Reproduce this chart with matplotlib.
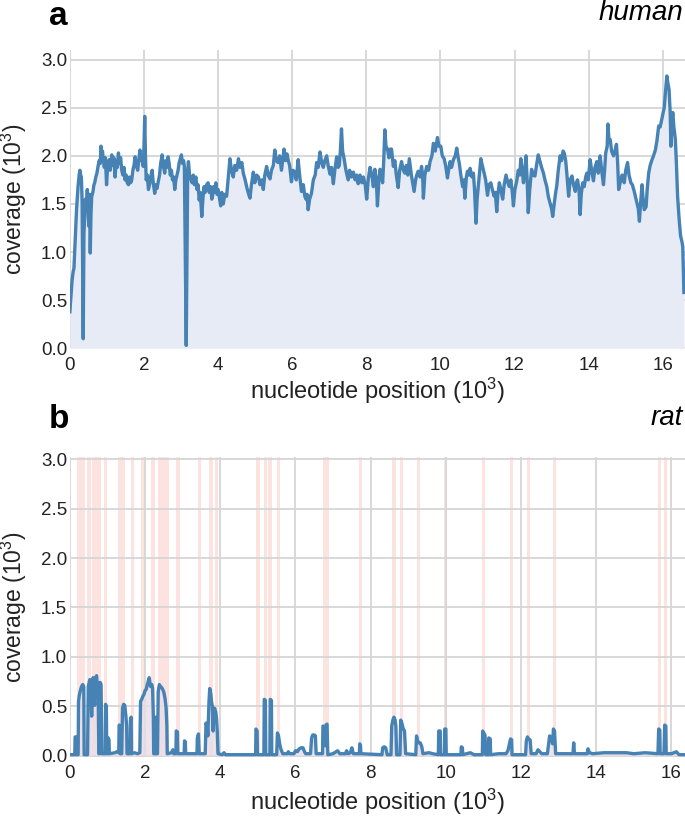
import matplotlib
matplotlib.use("Agg")
import matplotlib.pyplot as plt
import numpy as np

plt.rcParams['font.family'] = ['Liberation Sans', 'DejaVu Sans']
plt.rcParams['mathtext.fontset'] = 'custom'
plt.rcParams['mathtext.rm'] = 'Liberation Sans'
plt.rcParams['mathtext.it'] = 'Liberation Sans:italic'

# human coverage (position in kb, coverage in 10^3)
human_pos = [0.00, 0.03, 0.06, 0.09, 0.11, 0.14, 0.18, 0.22, 0.25, 0.27, 0.29, 0.31, 0.33, 0.35, 0.36, 0.37,
             0.38, 0.40, 0.42, 0.44, 0.47, 0.49, 0.51, 0.53, 0.55, 0.57, 0.59, 0.62, 0.65, 0.67, 0.70, 0.73,
             0.76, 0.79, 0.82, 0.84, 0.86, 0.88, 0.90, 0.93, 0.96, 0.99, 1.02, 1.06, 1.09, 1.13, 1.16, 1.19,
             1.22, 1.25, 1.28, 1.31, 1.34, 1.37, 1.40, 1.43, 1.46, 1.49, 1.52, 1.55, 1.58, 1.61, 1.64, 1.67,
             1.70, 1.73, 1.76, 1.79, 1.83, 1.86, 1.89, 1.92, 1.95, 1.98, 2.00, 2.02, 2.04, 2.06, 2.09, 2.12,
             2.15, 2.18, 2.22, 2.25, 2.29, 2.32, 2.35, 2.38, 2.42, 2.45, 2.49, 2.52, 2.56, 2.59, 2.62, 2.65,
             2.68, 2.71, 2.74, 2.77, 2.80, 2.83, 2.86, 2.89, 2.92, 2.95, 2.98, 3.01, 3.04, 3.07, 3.09, 3.12,
             3.14, 3.16, 3.18, 3.20, 3.23, 3.27, 3.30, 3.33, 3.36, 3.40, 3.43, 3.46, 3.49, 3.52, 3.56, 3.59,
             3.62, 3.65, 3.69, 3.73, 3.76, 3.80, 3.83, 3.85, 3.88, 3.91, 3.94, 3.97, 4.00, 4.04, 4.07, 4.10,
             4.14, 4.18, 4.23, 4.27, 4.32, 4.36, 4.41, 4.45, 4.50, 4.55, 4.59, 4.64, 4.68, 4.73, 4.77, 4.81,
             4.86, 4.90, 4.95, 4.99, 5.04, 5.09, 5.13, 5.18, 5.22, 5.26, 5.31, 5.35, 5.40, 5.44, 5.49, 5.53,
             5.57, 5.62, 5.66, 5.71, 5.75, 5.78, 5.82, 5.86, 5.89, 5.93, 5.98, 6.02, 6.07, 6.11, 6.16, 6.20,
             6.25, 6.30, 6.34, 6.37, 6.40, 6.43, 6.47, 6.52, 6.57, 6.62, 6.66, 6.70, 6.75, 6.80, 6.84, 6.88,
             6.93, 6.97, 7.02, 7.06, 7.11, 7.15, 7.20, 7.24, 7.27, 7.30, 7.33, 7.36, 7.40, 7.45, 7.51, 7.55,
             7.60, 7.65, 7.70, 7.74, 7.78, 7.83, 7.88, 7.92, 7.97, 8.01, 8.05, 8.10, 8.15, 8.19, 8.23, 8.27,
             8.30, 8.34, 8.37, 8.41, 8.44, 8.47, 8.50, 8.53, 8.57, 8.61, 8.65, 8.68, 8.73, 8.77, 8.81, 8.86,
             8.90, 8.95, 9.00, 9.04, 9.08, 9.12, 9.16, 9.19, 9.22, 9.26, 9.29, 9.33, 9.36, 9.40, 9.45, 9.49,
             9.52, 9.54, 9.58, 9.63, 9.68, 9.72, 9.77, 9.81, 9.86, 9.92, 9.96, 10.01, 10.05, 10.10, 10.14, 10.19,
             10.22, 10.26, 10.30, 10.35, 10.40, 10.44, 10.48, 10.51, 10.55, 10.60, 10.63, 10.66, 10.70, 10.73, 10.77, 10.80,
             10.85, 10.89, 10.92, 10.96, 10.99, 11.03, 11.06, 11.09, 11.13, 11.18, 11.22, 11.27, 11.31, 11.36, 11.40, 11.45,
             11.48, 11.52, 11.55, 11.59, 11.63, 11.68, 11.72, 11.77, 11.82, 11.86, 11.90, 11.94, 11.97, 12.01, 12.06, 12.10,
             12.14, 12.17, 12.20, 12.24, 12.28, 12.31, 12.34, 12.37, 12.41, 12.46, 12.50, 12.55, 12.60, 12.64, 12.68, 12.73,
             12.78, 12.82, 12.87, 12.91, 12.95, 13.00, 13.03, 13.07, 13.11, 13.14, 13.18, 13.23, 13.27, 13.31, 13.34, 13.38,
             13.41, 13.46, 13.50, 13.55, 13.59, 13.64, 13.67, 13.70, 13.74, 13.77, 13.80, 13.84, 13.88, 13.92, 13.95, 13.99,
             14.04, 14.08, 14.13, 14.17, 14.22, 14.26, 14.31, 14.35, 14.40, 14.43, 14.46, 14.50, 14.52, 14.55, 14.58, 14.62,
             14.67, 14.71, 14.75, 14.78, 14.81, 14.85, 14.90, 14.96, 15.00, 15.05, 15.09, 15.14, 15.18, 15.23, 15.26, 15.30,
             15.34, 15.37, 15.40, 15.44, 15.47, 15.50, 15.55, 15.58, 15.62, 15.66, 15.71, 15.75, 15.80, 15.84, 15.89, 15.93,
             15.98, 16.01, 16.04, 16.07, 16.11, 16.14, 16.17, 16.20, 16.22, 16.25, 16.27, 16.30, 16.34, 16.37, 16.40, 16.44,
             16.48, 16.51, 16.54, 16.57]
human_cov = [0.38, 0.55, 0.71, 0.80, 0.83, 1.10, 1.44, 1.68, 1.80, 1.85, 1.80, 1.78, 1.54, 0.50, 0.10, 0.60,
             1.20, 1.35, 1.55, 1.45, 1.65, 1.50, 1.27, 1.60, 0.99, 1.40, 1.58, 1.62, 1.70, 1.72, 1.78, 1.82,
             1.89, 1.95, 1.92, 2.10, 2.00, 2.05, 1.97, 1.88, 1.98, 1.70, 1.90, 1.96, 1.85, 2.01, 1.90, 1.98,
             1.78, 1.95, 1.88, 2.03, 1.92, 1.98, 1.85, 1.80, 1.88, 1.75, 1.80, 1.72, 1.70, 1.78, 1.72, 1.75,
             1.85, 1.90, 1.99, 1.90, 1.85, 1.95, 2.06, 1.95, 2.00, 1.89, 2.10, 2.41, 2.00, 1.75, 1.80, 1.65,
             1.70, 1.78, 1.85, 1.72, 1.61, 1.70, 1.66, 1.72, 1.80, 1.92, 2.01, 1.90, 1.82, 1.95, 1.88, 1.99,
             1.92, 1.80, 1.85, 1.75, 1.78, 1.65, 1.75, 1.80, 1.85, 1.93, 1.97, 2.01, 1.92, 1.95, 1.89, 0.80,
             0.03, 0.90, 1.85, 1.94, 1.80, 1.75, 1.72, 1.80, 1.70, 1.78, 1.65, 1.70, 1.54, 1.62, 1.37, 1.55,
             1.68, 1.62, 1.70, 1.72, 1.62, 1.68, 1.55, 1.58, 1.68, 1.62, 1.72, 1.60, 1.65, 1.55, 1.48, 1.62,
             1.50, 1.60, 1.58, 1.75, 1.97, 1.85, 1.78, 1.90, 1.85, 1.97, 1.88, 1.93, 1.82, 1.75, 1.68, 1.62,
             1.56, 1.70, 1.83, 1.72, 1.80, 1.78, 1.70, 1.75, 1.65, 1.80, 1.89, 1.80, 1.76, 1.85, 1.90, 2.06,
             1.95, 1.93, 2.00, 1.85, 1.98, 2.07, 1.95, 2.02, 1.96, 1.90, 1.73, 1.85, 1.83, 1.75, 1.96, 1.80,
             1.63, 1.70, 1.58, 1.55, 1.60, 1.44, 1.55, 1.61, 1.75, 1.80, 1.93, 1.88, 2.04, 1.92, 1.88, 1.95,
             2.00, 1.90, 1.81, 1.88, 1.71, 1.85, 1.99, 1.88, 1.90, 2.05, 2.28, 2.05, 1.97, 1.85, 1.75, 1.85,
             1.78, 1.83, 1.75, 1.80, 1.71, 1.80, 1.72, 1.78, 1.70, 1.55, 1.75, 1.88, 1.80, 1.68, 1.86, 1.75,
             1.48, 1.75, 1.86, 1.80, 1.72, 1.95, 2.27, 2.10, 2.07, 1.98, 2.07, 2.07, 1.89, 1.95, 1.80, 1.67,
             1.85, 1.94, 1.85, 1.82, 1.90, 1.80, 1.97, 1.88, 1.79, 1.70, 1.63, 1.75, 1.80, 1.84, 1.78, 1.89,
             1.80, 1.56, 1.80, 1.89, 1.85, 1.94, 2.00, 2.13, 2.05, 2.19, 2.10, 2.10, 2.00, 1.97, 1.90, 1.77,
             1.85, 1.94, 1.88, 1.96, 2.00, 2.08, 1.98, 1.92, 1.80, 1.68, 1.75, 1.56, 1.78, 1.84, 1.80, 1.87,
             1.78, 1.82, 1.65, 1.30, 1.55, 1.72, 1.85, 1.97, 1.90, 1.82, 1.75, 1.59, 1.70, 1.72, 1.65, 1.58,
             1.62, 1.42, 1.60, 1.72, 1.65, 1.55, 1.70, 1.80, 1.72, 1.68, 1.75, 1.62, 1.48, 1.65, 1.74, 1.85,
             1.80, 1.97, 1.88, 1.72, 1.85, 2.00, 1.75, 1.41, 1.65, 1.86, 1.80, 1.79, 1.92, 2.01, 1.95, 1.88,
             1.82, 1.75, 1.68, 1.58, 1.52, 1.45, 1.37, 1.50, 1.62, 1.69, 1.85, 2.00, 1.95, 2.05, 2.03, 1.95,
             1.82, 1.58, 1.75, 1.79, 1.70, 1.63, 1.72, 1.75, 1.65, 1.39, 1.60, 1.72, 1.68, 1.78, 1.82, 1.75,
             1.96, 1.85, 1.74, 1.88, 1.94, 1.82, 2.00, 1.85, 1.70, 1.85, 2.03, 2.10, 2.33, 2.15, 2.17, 2.05,
             2.00, 2.05, 2.12, 1.95, 1.65, 1.72, 1.80, 1.72, 1.85, 1.93, 1.80, 1.72, 1.70, 1.63, 1.58, 1.51,
             1.45, 1.32, 1.50, 1.70, 1.55, 1.44, 1.47, 1.65, 1.82, 1.90, 1.96, 2.00, 2.06, 2.15, 2.31, 2.30,
             2.39, 2.45, 2.50, 2.65, 2.83, 2.75, 2.69, 2.45, 2.10, 2.35, 2.45, 2.30, 2.17, 1.90, 1.58, 1.35,
             1.17, 1.12, 1.06, 0.58]

# rat coverage
rat_pos = [0.00, 0.10, 0.13, 0.14, 0.16, 0.17, 0.22, 0.23, 0.25, 0.28, 0.31, 0.34, 0.37, 0.38, 0.47, 0.49,
           0.53, 0.56, 0.58, 0.60, 0.62, 0.64, 0.66, 0.68, 0.71, 0.73, 0.75, 0.77, 0.79, 0.81, 0.83, 0.85,
           0.94, 0.95, 0.97, 0.98, 1.01, 1.02, 1.04, 1.05, 1.20, 1.25, 1.30, 1.31, 1.33, 1.34, 1.38, 1.40,
           1.43, 1.46, 1.49, 1.51, 1.52, 1.60, 1.61, 1.63, 1.64, 1.72, 1.80, 1.86, 1.88, 1.91, 1.94, 1.97,
           2.00, 2.03, 2.06, 2.09, 2.11, 2.13, 2.15, 2.18, 2.20, 2.22, 2.23, 2.26, 2.28, 2.29, 2.33, 2.35,
           2.38, 2.41, 2.44, 2.47, 2.50, 2.53, 2.56, 2.58, 2.59, 2.70, 2.74, 2.76, 2.82, 2.83, 2.86, 2.87,
           3.04, 3.05, 3.07, 3.08, 3.38, 3.39, 3.42, 3.44, 3.60, 3.62, 3.65, 3.67, 3.70, 3.72, 3.75, 3.77,
           3.79, 3.81, 3.83, 3.85, 3.88, 3.90, 3.92, 3.94, 4.05, 4.10, 4.14, 4.50, 4.94, 4.95, 4.98, 4.99,
           5.16, 5.17, 5.20, 5.21, 5.32, 5.33, 5.36, 5.37, 5.50, 5.52, 5.55, 5.58, 5.61, 5.66, 5.78, 5.81,
           5.84, 5.96, 6.00, 6.05, 6.10, 6.15, 6.20, 6.24, 6.27, 6.40, 6.43, 6.46, 6.50, 6.53, 6.55, 6.72,
           6.73, 6.77, 6.79, 6.81, 6.84, 6.86, 7.00, 7.12, 7.18, 7.33, 7.36, 7.40, 7.46, 7.50, 7.54, 7.70,
           7.71, 7.73, 7.74, 8.30, 8.32, 8.36, 8.40, 8.44, 8.54, 8.56, 8.59, 8.62, 8.65, 8.67, 8.69, 8.78,
           8.80, 8.83, 8.86, 8.90, 8.93, 9.20, 9.22, 9.25, 9.28, 9.32, 9.36, 9.39, 9.55, 9.65, 9.80, 9.81,
           9.85, 9.86, 9.96, 9.97, 10.00, 10.01, 10.40, 10.41, 10.44, 10.45, 10.55, 10.65, 10.75, 10.97, 10.98, 11.02,
           11.04, 11.06, 11.13, 11.14, 11.18, 11.19, 11.40, 11.60, 11.65, 11.69, 11.72, 11.75, 11.76, 12.12, 12.14, 12.17,
           12.20, 12.24, 12.27, 12.40, 12.45, 12.50, 12.55, 12.70, 12.76, 12.80, 12.84, 12.86, 12.89, 12.92, 13.38, 13.40,
           13.42, 13.60, 13.76, 13.78, 13.82, 13.90, 14.20, 14.50, 14.80, 15.00, 15.30, 15.64, 15.66, 15.69, 15.70, 15.80,
           15.82, 15.85, 15.86, 16.00, 16.13, 16.20, 16.36]
rat_cov = [0.01, 0.01, 0.01, 0.19, 0.19, 0.01, 0.01, 0.55, 0.61, 0.66, 0.70, 0.72, 0.70, 0.01, 0.01, 0.70,
           0.77, 0.72, 0.40, 0.77, 0.79, 0.60, 0.51, 0.78, 0.81, 0.72, 0.74, 0.02, 0.02, 0.74, 0.72, 0.02,
           0.02, 0.52, 0.50, 0.02, 0.02, 0.18, 0.16, 0.02, 0.03, 0.04, 0.03, 0.31, 0.30, 0.02, 0.02, 0.48,
           0.52, 0.51, 0.40, 0.30, 0.02, 0.02, 0.36, 0.39, 0.02, 0.03, 0.02, 0.03, 0.55, 0.57, 0.60, 0.62,
           0.66, 0.67, 0.72, 0.76, 0.79, 0.74, 0.70, 0.72, 0.68, 0.40, 0.02, 0.02, 0.39, 0.02, 0.02, 0.65,
           0.72, 0.70, 0.69, 0.67, 0.64, 0.58, 0.48, 0.30, 0.02, 0.03, 0.06, 0.02, 0.02, 0.25, 0.24, 0.02,
           0.02, 0.15, 0.14, 0.02, 0.02, 0.18, 0.22, 0.02, 0.02, 0.33, 0.30, 0.20, 0.55, 0.68, 0.62, 0.54,
           0.50, 0.25, 0.45, 0.48, 0.44, 0.38, 0.25, 0.02, 0.01, 0.03, 0.01, 0.01, 0.01, 0.27, 0.25, 0.01,
           0.01, 0.57, 0.56, 0.01, 0.01, 0.57, 0.56, 0.01, 0.01, 0.23, 0.20, 0.12, 0.07, 0.02, 0.02, 0.04,
           0.02, 0.02, 0.05, 0.04, 0.07, 0.08, 0.08, 0.04, 0.02, 0.02, 0.18, 0.21, 0.21, 0.20, 0.02, 0.02,
           0.30, 0.29, 0.10, 0.31, 0.32, 0.01, 0.02, 0.05, 0.02, 0.02, 0.05, 0.02, 0.03, 0.08, 0.02, 0.02,
           0.12, 0.10, 0.02, 0.01, 0.08, 0.09, 0.08, 0.01, 0.01, 0.30, 0.36, 0.39, 0.36, 0.30, 0.01, 0.01,
           0.36, 0.33, 0.28, 0.25, 0.02, 0.01, 0.20, 0.15, 0.13, 0.13, 0.09, 0.02, 0.03, 0.02, 0.01, 0.25,
           0.25, 0.01, 0.01, 0.27, 0.27, 0.01, 0.01, 0.09, 0.08, 0.01, 0.02, 0.03, 0.01, 0.01, 0.25, 0.22,
           0.21, 0.01, 0.01, 0.18, 0.17, 0.01, 0.02, 0.02, 0.05, 0.12, 0.17, 0.16, 0.01, 0.01, 0.15, 0.19,
           0.17, 0.16, 0.02, 0.02, 0.06, 0.04, 0.02, 0.02, 0.20, 0.18, 0.12, 0.27, 0.25, 0.02, 0.02, 0.13,
           0.02, 0.02, 0.02, 0.07, 0.03, 0.02, 0.03, 0.03, 0.03, 0.02, 0.03, 0.02, 0.27, 0.26, 0.02, 0.02,
           0.31, 0.30, 0.02, 0.02, 0.04, 0.01, 0.01]

# shaded regions on rat panel (start, end in kb)
band_start = [0.20, 0.46, 0.60, 0.73, 0.90, 1.29, 1.62, 1.89, 2.15, 2.35, 2.82, 3.40, 3.70, 3.86,
              4.95, 5.15, 5.27, 5.50, 6.73, 7.70, 8.58, 8.78, 9.22, 9.96, 10.96, 11.70, 12.15, 12.85,
              15.65, 15.80]
band_end = [0.40, 0.56, 0.71, 0.84, 0.99, 1.47, 1.71, 1.99, 2.26, 2.64, 2.92, 3.49, 3.80, 3.95,
            5.05, 5.24, 5.37, 5.59, 6.90, 7.78, 8.67, 8.87, 9.31, 10.04, 11.04, 11.79, 12.23, 12.94,
            15.73, 15.88]

line_c = '#4682b4'
fill_c = '#e7ebf6'
grid_c = '#d6d6d6'

fig = plt.figure(figsize=(6.85, 8.19), dpi=100)
ax1 = fig.add_axes([0.102, 0.5747, 0.898, 0.3643])
ax2 = fig.add_axes([0.102, 0.0761, 0.898, 0.3655])

for ax in (ax1, ax2):
    ax.set_axisbelow(True)
    ax.grid(True, color=grid_c, linewidth=1.3)
    for s in ax.spines.values():
        s.set_visible(False)
    ax.tick_params(length=0, labelsize=13.5, colors='#222222')
    ax.tick_params(axis='x', pad=6)
    ax.tick_params(axis='y', pad=2)
    ax.set_xticks(range(0, 17, 2))
    ax.set_yticks(np.arange(0, 3.01, 0.5))
    ax.set_yticklabels(['%.1f' % v for v in np.arange(0, 3.01, 0.5)])
    ax.set_xlabel('nucleotide position (10$^3$)', fontsize=17, color='#222222', va='top')
    ax.set_ylabel('coverage (10$^3$)', fontsize=16.5, color='#222222')
    ax.yaxis.set_label_coords(-0.066, 0.5)

# panel a
ax1.fill_between(human_pos, human_cov, 0, color=fill_c, linewidth=0, zorder=1)
ax1.plot(human_pos, human_cov, color=line_c, lw=2.4, zorder=3)
ax1.set_xlim(0, 16.6)
ax1.set_ylim(0, 3.1)
ax1.xaxis.set_label_coords(0.5, -0.092)

# panel b
for s, e in zip(band_start, band_end):
    ax2.axvspan(s, e, ymax=1, color='#fde3df', linewidth=0, zorder=0.3)
ax2.fill_between(rat_pos, rat_cov, 0, color='#e8dde6', alpha=0.8, linewidth=0, zorder=1)
ax2.plot(rat_pos, rat_cov, color=line_c, lw=2.4, zorder=3)
ax2.set_xlim(0, 16.36)
ax2.set_ylim(-0.01, 3.02)
ax2.xaxis.set_label_coords(0.5, -0.102)

fig.text(0.0715, 0.970, 'a', fontsize=24, fontweight='bold', ha='left', va='baseline')
fig.text(0.0715, 0.478, 'b', fontsize=24, fontweight='bold', ha='left', va='baseline')
fig.text(0.997, 0.975, 'human', fontsize=20, style='italic', ha='right', va='baseline')
fig.text(0.997, 0.481, 'rat', fontsize=20, style='italic', ha='right', va='baseline')

fig.savefig('out.png', dpi=100)
